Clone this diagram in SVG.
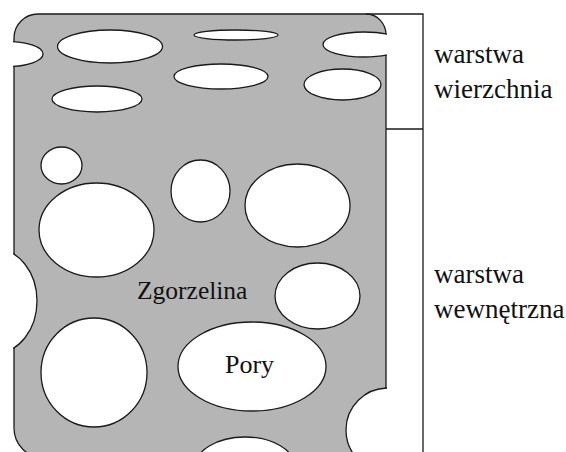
<svg xmlns="http://www.w3.org/2000/svg" width="566" height="452" viewBox="0 0 566 452">
  <style>
    .scale { fill: #b5b5b5; stroke: #1a1a1a; stroke-width: 1.3; }
    .pore { fill: #ffffff; stroke: #1a1a1a; stroke-width: 1.3; }
    .frame { fill: none; stroke: #1a1a1a; stroke-width: 1.3; }
    .lbl { fill: #111111; }
  </style>
  <defs>
    <!-- outline of the scale layer, slightly grown so pores also hide its border -->
    <clipPath id="scaleClip">
      <path d="M13,38 A25,25 0 0 1 38,13 L366,13 A21,22 0 0 1 387,35 L387,460 L44,460 A31,31 0 0 1 13,429 Z"/>
    </clipPath>
  </defs>
  <rect width="566" height="452" fill="#ffffff"/>

  <!-- scale layer (Zgorzelina) -->
  <g id="scale">
    <path class="scale" d="M14,38 A24,24 0 0 1 38,14 L366,14 A20,21 0 0 1 386,35 L386,458 L44,458 A30,30 0 0 1 14,428 Z"/>
  </g>

  <!-- pores cut into the scale -->
  <g id="pores" clip-path="url(#scaleClip)">
    <ellipse class="pore" cx="8" cy="54" rx="35" ry="12.5"/>
    <ellipse class="pore" cx="110" cy="46.5" rx="52.5" ry="16.5"/>
    <ellipse class="pore" cx="236" cy="35" rx="42" ry="5"/>
    <ellipse class="pore" cx="364" cy="44.5" rx="41" ry="12.5"/>
    <ellipse class="pore" cx="221" cy="76.5" rx="47" ry="12.5"/>
    <ellipse class="pore" cx="342.5" cy="84.5" rx="38.5" ry="15.5"/>
    <ellipse class="pore" cx="97" cy="99" rx="45" ry="13"/>
    <ellipse class="pore" cx="61.5" cy="165.5" rx="20.5" ry="18.5"/>
    <ellipse class="pore" cx="96.5" cy="230" rx="57.5" ry="47"/>
    <ellipse class="pore" cx="200.5" cy="191" rx="29.5" ry="31"/>
    <ellipse class="pore" cx="297.5" cy="205.5" rx="52.5" ry="41.5"/>
    <ellipse class="pore" cx="-4" cy="301" rx="41" ry="52"/>
    <ellipse class="pore" cx="317.5" cy="296" rx="42.5" ry="33"/>
    <ellipse class="pore" cx="94" cy="372.5" rx="53" ry="54.5"/>
    <ellipse class="pore" id="pory" cx="252" cy="366.5" rx="74" ry="44.5"/>
    <ellipse class="pore" cx="245" cy="467" rx="50" ry="30"/>
    <circle class="pore" cx="388" cy="430" r="42"/>
  </g>

  <!-- layer bracket on the right -->
  <g id="bracket">
    <path class="frame" d="M366,14 H423 V452"/>
    <path class="frame" d="M386,129 H423"/>
  </g>

  <!-- labels -->
  <g id="labels" font-family="'Liberation Serif', 'DejaVu Serif', serif">
    <text class="lbl" x="137" y="299" font-size="25.5">Zgorzelina</text>
    <text class="lbl" x="225" y="373" font-size="26">Pory</text>
    <text class="lbl" x="434" y="63" font-size="27">warstwa</text>
    <text class="lbl" x="434" y="98" font-size="27">wierzchnia</text>
    <text class="lbl" x="434" y="283" font-size="27">warstwa</text>
    <text class="lbl" x="434" y="318" font-size="27">wewnętrzna</text>
  </g>
</svg>
